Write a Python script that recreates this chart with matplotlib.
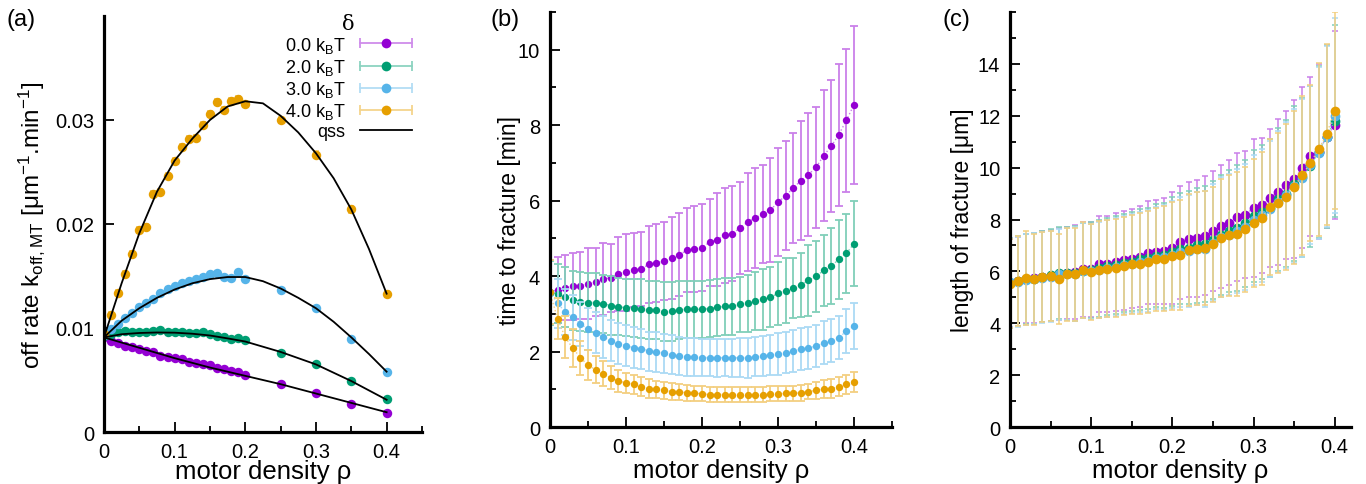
import numpy as np
import matplotlib.pyplot as plt
from matplotlib.colors import to_rgb
from matplotlib.lines import Line2D
from matplotlib.legend_handler import HandlerBase
from matplotlib.ticker import MultipleLocator

plt.rcParams['font.family'] = ['Liberation Sans', 'DejaVu Sans']
plt.rcParams['mathtext.default'] = 'regular'

# ---------------------------------------------------------------- data
deltas = ['0.0', '2.0', '3.0', '4.0']
colors = ['#9400d3', '#009e73', '#56b4e9', '#e69f00']

# (a) off rate vs motor density
rho_a = [0.0, 0.01, 0.02, 0.03, 0.04, 0.05, 0.06, 0.07, 0.08, 0.09, 0.10,
         0.11, 0.12, 0.13, 0.14, 0.15, 0.16, 0.17, 0.18, 0.19, 0.20,
         0.25, 0.30, 0.35, 0.40]
koff_0 = [0.0091, 0.00875, 0.0086, 0.00828, 0.00818, 0.00802, 0.0078, 0.0077, 0.00732,
          0.00725, 0.00715, 0.0070, 0.00674, 0.00668, 0.00652, 0.00642, 0.0062, 0.0061,
          0.00588, 0.00578, 0.00545, 0.00457, 0.00377, 0.00272, 0.00185]
koff_2 = [0.0092, 0.0094, 0.0096, 0.0097, 0.0096, 0.0096, 0.0096, 0.0097, 0.0098,
          0.0096, 0.0096, 0.0096, 0.0095, 0.0095, 0.0096, 0.0094, 0.0092, 0.0091,
          0.0089, 0.0090, 0.0088, 0.0076, 0.0065, 0.0049, 0.00313]
koff_3 = [0.0093, 0.00988, 0.0104, 0.0110, 0.01147, 0.01205, 0.01243, 0.01275, 0.0134,
          0.01378, 0.01403, 0.01435, 0.0145, 0.01467, 0.01493, 0.01515, 0.01524, 0.01493,
          0.01483, 0.01537, 0.01474, 0.0137, 0.01192, 0.00898, 0.00575]
koff_4 = [0.0094, 0.01128, 0.01335, 0.01521, 0.01712, 0.01942, 0.01974, 0.02288, 0.0231,
          0.02463, 0.02607, 0.02738, 0.02818, 0.0283, 0.02949, 0.03061, 0.03173, 0.03099,
          0.03182, 0.03204, 0.03157, 0.03003, 0.02668, 0.0214, 0.01326]
koff_err = [0.0001, 0.00015, 0.00015, 0.0003]

rho_qss = [0.0, 0.025, 0.05, 0.075, 0.1, 0.125, 0.15, 0.175, 0.2, 0.225,
           0.25, 0.275, 0.3, 0.325, 0.35, 0.375, 0.4]
qss_0 = [0.0091, 0.0086, 0.0081, 0.0076, 0.0071, 0.00665, 0.0062, 0.0058, 0.0054,
         0.0050, 0.0046, 0.00415, 0.0037, 0.00325, 0.0028, 0.00235, 0.0019]
qss_2 = [0.0091, 0.0094, 0.00952, 0.00957, 0.00955, 0.00945, 0.00928, 0.0090, 0.0087,
         0.0082, 0.0077, 0.0071, 0.0065, 0.0057, 0.0049, 0.0040, 0.0031]
qss_3 = [0.0091, 0.0107, 0.0119, 0.0129, 0.0137, 0.0143, 0.0147, 0.0149, 0.0149,
         0.0145, 0.0138, 0.0129, 0.0119, 0.0106, 0.0091, 0.0075, 0.0058]
qss_4 = [0.0091, 0.0143, 0.0191, 0.0231, 0.0261, 0.0282, 0.0300, 0.0313, 0.0318,
         0.0316, 0.0304, 0.0288, 0.0268, 0.0244, 0.0214, 0.0176, 0.0133]

# (b) and (c) share the density grid 0 .. 0.4
rho_bc = np.linspace(0.0, 0.4, 41)

t_0 = [3.58, 3.64, 3.69, 3.73, 3.75, 3.80, 3.84, 3.93, 3.95, 4.06, 4.10, 4.17, 4.19, 4.31,
       4.35, 4.40, 4.48, 4.56, 4.69, 4.72, 4.75, 4.90, 4.97, 5.08, 5.12, 5.28, 5.43, 5.54,
       5.65, 5.75, 5.96, 6.13, 6.33, 6.53, 6.69, 6.88, 7.19, 7.44, 7.75, 8.13, 8.54]
t_0_err = [0.85, 0.87, 0.86, 0.89, 0.89, 0.95, 0.90, 0.95, 0.90, 0.98, 1.02, 0.98, 0.98, 1.03,
           1.04, 1.03, 1.09, 1.10, 1.12, 1.13, 1.15, 1.15, 1.22, 1.25, 1.26, 1.22, 1.29, 1.33,
           1.30, 1.38, 1.44, 1.44, 1.46, 1.57, 1.63, 1.60, 1.73, 1.75, 1.88, 1.90, 2.10]
t_2 = [3.56, 3.53, 3.45, 3.36, 3.32, 3.30, 3.30, 3.27, 3.22, 3.19, 3.16, 3.15, 3.14, 3.10,
       3.10, 3.06, 3.07, 3.10, 3.12, 3.12, 3.12, 3.14, 3.17, 3.20, 3.20, 3.25, 3.28, 3.34,
       3.39, 3.44, 3.54, 3.61, 3.68, 3.76, 3.89, 3.99, 4.15, 4.27, 4.44, 4.60, 4.86]
t_2_err = [0.85, 0.78, 0.80, 0.78, 0.78, 0.78, 0.77, 0.77, 0.77, 0.76, 0.76, 0.77, 0.77, 0.78,
           0.78, 0.79, 0.78, 0.77, 0.76, 0.76, 0.76, 0.76, 0.76, 0.76, 0.76, 0.73, 0.75, 0.77,
           0.81, 0.80, 0.83, 0.86, 0.80, 0.84, 0.94, 0.94, 0.95, 1.01, 1.04, 1.05, 1.13]
t_3 = [3.57, 3.28, 3.05, 2.91, 2.74, 2.59, 2.50, 2.39, 2.29, 2.21, 2.16, 2.10, 2.08, 2.01,
       1.99, 1.95, 1.92, 1.89, 1.86, 1.86, 1.84, 1.84, 1.83, 1.84, 1.83, 1.84, 1.83, 1.86,
       1.88, 1.91, 1.93, 1.97, 2.01, 2.06, 2.10, 2.14, 2.23, 2.28, 2.37, 2.54, 2.68]
t_3_err = [0.85, 0.65, 0.62, 0.60, 0.58, 0.56, 0.55, 0.55, 0.55, 0.55, 0.55, 0.54, 0.53, 0.52,
           0.52, 0.51, 0.51, 0.50, 0.50, 0.50, 0.50, 0.50, 0.50, 0.50, 0.51, 0.51, 0.52, 0.52,
           0.53, 0.54, 0.56, 0.55, 0.55, 0.56, 0.56, 0.56, 0.57, 0.57, 0.58, 0.59, 0.62]
t_4 = [3.57, 2.87, 2.38, 2.09, 1.84, 1.64, 1.52, 1.41, 1.31, 1.22, 1.17, 1.13, 1.07, 1.02,
       1.00, 0.97, 0.94, 0.93, 0.91, 0.90, 0.88, 0.86, 0.86, 0.86, 0.86, 0.86, 0.86, 0.86,
       0.86, 0.88, 0.88, 0.89, 0.89, 0.91, 0.94, 0.97, 1.01, 1.02, 1.07, 1.13, 1.20]
t_4_err = [0.85, 0.55, 0.55, 0.50, 0.45, 0.40, 0.36, 0.33, 0.30, 0.28, 0.27, 0.26, 0.25, 0.24,
           0.23, 0.22, 0.22, 0.21, 0.21, 0.20, 0.20, 0.20, 0.20, 0.20, 0.20, 0.20, 0.20, 0.20,
           0.20, 0.20, 0.20, 0.20, 0.20, 0.21, 0.21, 0.22, 0.23, 0.24, 0.25, 0.26, 0.27]

L_0 = [5.55, 5.62, 5.72, 5.75, 5.80, 5.84, 5.90, 5.95, 5.98, 6.08, 6.08, 6.27, 6.29, 6.36,
       6.43, 6.49, 6.56, 6.72, 6.76, 6.78, 6.91, 7.13, 7.23, 7.28, 7.38, 7.55, 7.74, 7.87,
       8.09, 8.19, 8.45, 8.54, 8.82, 9.06, 9.32, 9.56, 9.99, 10.44, 10.62, 11.20, 11.65]
L_0_err = [1.70, 1.72, 1.72, 1.73, 1.75, 1.75, 1.77, 1.78, 1.80, 1.82, 1.82, 1.85, 1.86, 1.88,
           1.90, 1.92, 1.95, 1.98, 2.00, 2.05, 2.15, 2.18, 2.22, 2.25, 2.28, 2.31, 2.38, 2.41,
           2.47, 2.46, 2.67, 2.60, 2.67, 2.82, 2.85, 3.06, 3.10, 3.07, 3.36, 3.54, 3.62]
L_2 = [5.55, 5.62, 5.70, 5.72, 5.80, 5.85, 5.95, 5.93, 5.92, 6.02, 6.06, 6.12, 6.20, 6.25,
       6.32, 6.38, 6.46, 6.50, 6.60, 6.62, 6.75, 6.88, 6.92, 7.00, 7.05, 7.20, 7.40, 7.55,
       7.68, 7.85, 8.13, 8.30, 8.45, 8.78, 9.00, 9.38, 9.62, 10.05, 10.60, 11.20, 11.81]
L_2_err = [1.72, 1.74, 1.74, 1.75, 1.77, 1.77, 1.78, 1.80, 1.82, 1.83, 1.84, 1.86, 1.87, 1.89,
           1.90, 1.92, 1.94, 1.96, 1.99, 2.03, 2.10, 2.13, 2.18, 2.20, 2.24, 2.28, 2.32, 2.36,
           2.42, 2.44, 2.55, 2.58, 2.65, 2.75, 2.83, 2.98, 3.08, 3.10, 3.30, 3.52, 3.70]
L_3 = [5.58, 5.60, 5.68, 5.72, 5.76, 5.80, 5.88, 5.90, 5.90, 6.03, 6.00, 6.05, 6.12, 6.17,
       6.24, 6.30, 6.36, 6.40, 6.52, 6.55, 6.65, 6.74, 6.80, 6.88, 6.86, 7.10, 7.32, 7.42,
       7.55, 7.72, 7.98, 8.16, 8.40, 8.68, 8.95, 9.30, 9.60, 10.10, 10.56, 11.20, 12.00]
L_3_err = [1.72, 1.73, 1.75, 1.76, 1.76, 1.77, 1.77, 1.79, 1.81, 1.83, 1.84, 1.86, 1.87, 1.88,
           1.90, 1.92, 1.94, 1.96, 1.98, 2.02, 2.08, 2.12, 2.16, 2.19, 2.22, 2.25, 2.30, 2.34,
           2.40, 2.43, 2.50, 2.56, 2.62, 2.72, 2.82, 2.96, 3.05, 3.05, 3.32, 3.50, 3.75]
L_4 = [5.52, 5.63, 5.75, 5.69, 5.78, 5.82, 5.72, 5.88, 5.88, 6.05, 5.97, 6.07, 6.11, 6.14,
       6.20, 6.27, 6.29, 6.36, 6.46, 6.49, 6.61, 6.65, 6.82, 6.88, 6.91, 7.04, 7.28, 7.39,
       7.45, 7.62, 7.87, 8.04, 8.49, 8.64, 8.87, 9.25, 9.70, 10.19, 10.70, 11.28, 12.20]
L_4_err = [1.72, 1.72, 1.80, 1.75, 1.75, 1.75, 1.73, 1.78, 1.80, 1.85, 1.85, 1.86, 1.87, 1.88,
           1.90, 1.92, 1.95, 1.96, 2.00, 2.03, 2.08, 2.12, 2.15, 2.18, 2.20, 2.22, 2.28, 2.32,
           2.38, 2.42, 2.47, 2.55, 2.62, 2.70, 2.80, 2.95, 3.05, 3.00, 3.35, 3.50, 3.80]

rho_ticks = [0.0, 0.1, 0.2, 0.3, 0.4]
rho_ticklabels = ['0', '0.1', '0.2', '0.3', '0.4']


def lighten(c, amount):
    r = np.array(to_rgb(c))
    return tuple(r + (1 - r) * amount)


# legend entry: horizontal error bar with caps and a dot in the middle
class ErrHandler(HandlerBase):
    def create_artists(self, legend, orig_handle, xdescent, ydescent,
                       width, height, fontsize, trans):
        c = orig_handle.get_color()
        y = height / 2 - ydescent
        bar = Line2D([-xdescent, width - xdescent], [y, y], color=lighten(c, 0.55),
                     lw=1.3, marker='|', ms=7, mew=1.3, transform=trans)
        dot = Line2D([width / 2 - xdescent], [y], ls='none', marker='o', ms=7,
                     color=c, mec='none', transform=trans)
        return [bar, dot]


def style(ax, xlim, ylim, yticks, yminor=None, xpad=1.5):
    ax.set_xlim(*xlim)
    ax.set_ylim(*ylim)
    for s in ['top', 'right']:
        ax.spines[s].set_visible(False)
    for s in ['left', 'bottom']:
        ax.spines[s].set_linewidth(2.3)
    ax.set_xticks(rho_ticks)
    ax.set_xticklabels(rho_ticklabels)
    ax.xaxis.set_minor_locator(MultipleLocator(0.05))
    ax.set_yticks(yticks[0])
    ax.set_yticklabels(yticks[1])
    if yminor:
        ax.yaxis.set_minor_locator(MultipleLocator(yminor))
    ax.tick_params(which='major', direction='in', length=7, width=1.3,
                   labelsize=14.5, pad=7)
    ax.tick_params(which='minor', direction='in', length=4.5, width=1.3)
    ax.set_xlabel('motor density ρ', fontsize=18.5, labelpad=xpad)


def series(ax, x, y, err, color, ms, capsize, light, elw=1.3, dotted=True):
    ax.errorbar(x, y, yerr=err, fmt='none', ecolor=lighten(color, light),
                elinewidth=elw, capsize=capsize, capthick=elw)
    if dotted:
        ax.plot(x, y, ls=':', lw=1, color=lighten(color, 0.5))
    ax.plot(x, y, 'o', color=color, ms=ms, mec='none')


fig = plt.figure(figsize=(13.66, 4.85), dpi=100)
ax_a = fig.add_axes([0.0761, 0.1072, 0.2328, 0.8578])
ax_b = fig.add_axes([0.4026, 0.1175, 0.2504, 0.8557])
ax_c = fig.add_axes([0.7394, 0.1175, 0.2496, 0.8557])

# ---------------------------------------------------------------- (a)
koff_all = [koff_0, koff_2, koff_3, koff_4]
qss_all = [qss_0, qss_2, qss_3, qss_4]
handles = []
for d, c, k, e in zip(deltas, colors, koff_all, koff_err):
    series(ax_a, rho_a, k, e, c, 6.8, 2, 0.5, dotted=False)
    handles.append(Line2D([], [], color=c, label=d + ' k$_B$T'))
for q in qss_all:
    ax_a.plot(rho_qss, q, color='black', lw=1.3)
qss_handle = Line2D([], [], color='black', lw=1.3, label='qss')

leg = ax_a.legend(handles + [qss_handle], [h.get_label() for h in handles] + ['qss'],
                  handler_map={h: ErrHandler() for h in handles},
                  loc='upper right', bbox_to_anchor=(1.02, 1.045), frameon=False,
                  markerfirst=False, fontsize=13, handlelength=2.9,
                  handletextpad=0.8, labelspacing=0.12, title='δ',
                  title_fontproperties={'family': 'DejaVu Serif', 'size': 15})
style(ax_a, (0, 0.45), (0, 0.04),
      ([0, 0.01, 0.02, 0.03], ['0', '0.01', '0.02', '0.03']), xpad=-1)
ax_a.set_ylabel('off rate k$_{off,MT}$ [μm$^{-1}$.min$^{-1}$]', fontsize=17.5, labelpad=6)

# ---------------------------------------------------------------- (b)
t_all = [t_0, t_2, t_3, t_4]
t_err = [t_0_err, t_2_err, t_3_err, t_4_err]
for c, t, e in zip(colors, t_all, t_err):
    series(ax_b, rho_bc, t, e, c, 5.3, 3, 0.5)
style(ax_b, (0, 0.45), (0, 11),
      ([0, 2, 4, 6, 8, 10], ['0', '2', '4', '6', '8', '10']), yminor=1)
ax_b.set_ylabel('time to fracture [min]', fontsize=16.5, labelpad=-2)

# ---------------------------------------------------------------- (c)
L_all = [L_0, L_2, L_3, L_4]
L_err = [L_0_err, L_2_err, L_3_err, L_4_err]
for c, L, e in zip(colors, L_all, L_err):
    series(ax_c, rho_bc, L, e, c, 7, 2.3, 0.5, elw=1.1)
style(ax_c, (0, 0.42), (0, 16),
      ([0, 2, 4, 6, 8, 10, 12, 14], ['0', '2', '4', '6', '8', '10', '12', '14']), yminor=1)
ax_c.set_ylabel('length of fracture [μm]', fontsize=16.5, labelpad=3)

for lab, xpos in [('(a)', 0.005), ('(b)', 0.359), ('(c)', 0.690)]:
    fig.text(xpos, 0.958, lab, fontsize=17, va='center')

fig.savefig('out.png', dpi=100)
